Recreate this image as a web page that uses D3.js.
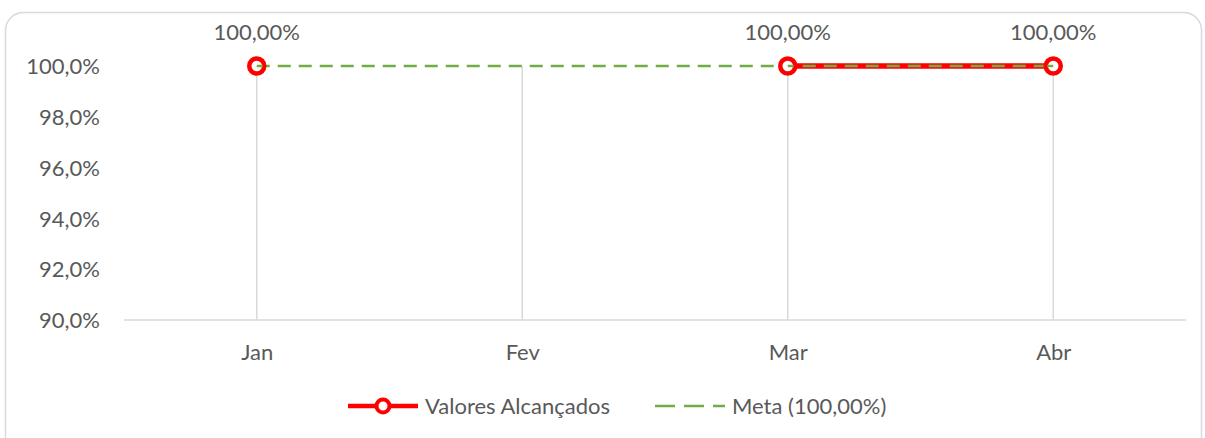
<!DOCTYPE html>
<html><head><meta charset="utf-8">
<script src="https://cdn.jsdelivr.net/npm/d3@7"></script>
<style>body{margin:0;background:#fff}svg{display:block}text{font-family:Lato,"Open Sans",sans-serif;fill:#595959}</style>
</head><body><svg id="c" width="1205" height="438"></svg>
<script>
const categories = ["Jan","Fev","Mar","Abr"];
const valores = [100, null, 100, 100];
const meta = [100, 100, 100, 100];
const yTicks = [90, 92, 94, 96, 98, 100];
const seriesNames = ["Valores Alcançados", "Meta (100,00%)"];

const svg = d3.select("#c");
const FS = 22;
const m = {left:124, right:1186, top:66, bottom:320};

svg.append("rect").attr("x",5.5).attr("y",12.5).attr("width",1196).attr("height",445)
  .attr("rx",18).attr("fill","#fff").attr("stroke","#d9d9d9").attr("stroke-width",1.5);

const x = d3.scalePoint().domain(categories).range([m.left, m.right]).padding(0.5);
const y = d3.scaleLinear().domain([90,100]).range([m.bottom, m.top]);

// y axis labels
const yAxis = d3.axisLeft(y).tickValues(yTicks).tickSize(0).tickPadding(0)
  .tickFormat(d => d3.format(".1f")(d).replace(".", ",") + "%");
const ya = svg.append("g").attr("transform",`translate(100,0)`).call(yAxis);
ya.select(".domain").remove();
ya.selectAll("text").attr("font-size",FS).attr("fill","#595959").attr("dy","0.35em").style("font-family","Lato");

// drop lines
svg.append("g").selectAll("line").data(categories).join("line")
  .attr("x1",d=>x(d)).attr("x2",d=>x(d)).attr("y1",(d,i)=>y(Math.max(meta[i], valores[i]||0))).attr("y2",m.bottom)
  .attr("stroke","#d9d9d9").attr("stroke-width",1.5);

// x axis
const xAxis = d3.axisBottom(x).tickSize(0).tickPadding(0);
const xa = svg.append("g").attr("transform",`translate(0,${m.bottom})`).call(xAxis);
xa.select(".domain").attr("d",`M${m.left},0H${m.right}`).attr("stroke","#d9d9d9").attr("stroke-width",1.5);
xa.selectAll("text").attr("font-size",FS).attr("fill","#595959").attr("y",32).attr("dy","0.35em").style("font-family","Lato");

// valores line
const lineV = d3.line().defined(d=>d.v!=null).x(d=>x(d.c)).y(d=>y(d.v));
const vData = categories.map((c,i)=>({c, v:valores[i]}));
svg.append("path").datum(vData).attr("d",lineV).attr("fill","none").attr("stroke","#ff0000").attr("stroke-width",5.5);

// meta line
const mData = categories.map((c,i)=>({c, v:meta[i]}));
svg.append("path").datum(mData).attr("d",lineV).attr("fill","none").attr("stroke","#70ad47")
  .attr("stroke-width",2.5).attr("stroke-dasharray","13,8");

// markers
svg.append("g").selectAll("circle").data(vData.filter(d=>d.v!=null)).join("circle")
  .attr("cx",d=>x(d.c)).attr("cy",d=>y(d.v)).attr("r",7.5).attr("fill","#fff").attr("stroke","#ff0000").attr("stroke-width",4.5);
svg.append("g").selectAll("line").data(vData.filter(d=>d.v!=null)).join("line")
  .attr("x1",d=> d.c==="Abr" ? x(d.c)-6 : x(d.c)).attr("x2",d=> d.c==="Abr" ? x(d.c) : x(d.c)+6)
  .attr("y1",d=>y(d.v)).attr("y2",d=>y(d.v)).attr("stroke","#70ad47").attr("stroke-width",2.5);

// data labels
svg.append("g").selectAll("text").data(vData.filter(d=>d.v!=null)).join("text")
  .attr("x",d=>x(d.c)).attr("y",d=>y(d.v)-34).attr("dy","0.35em").attr("text-anchor","middle").attr("font-size",FS)
  .text(d=>d3.format(".2f")(d.v).replace(".", ",")+"%");

// legend
const lg = svg.append("g");
lg.append("line").attr("x1",348).attr("x2",418).attr("y1",406).attr("y2",406).attr("stroke","#ff0000").attr("stroke-width",4.5);
lg.append("circle").attr("cx",383).attr("cy",406).attr("r",6.5).attr("fill","#fff").attr("stroke","#ff0000").attr("stroke-width",4);
lg.append("text").attr("x",425).attr("y",406).attr("dy","0.35em").attr("font-size",FS).text(seriesNames[0]);
lg.append("line").attr("x1",655).attr("x2",725).attr("y1",406).attr("y2",406).attr("stroke","#70ad47").attr("stroke-width",2.5).attr("stroke-dasharray","20,9");
lg.append("text").attr("x",732).attr("y",406).attr("dy","0.35em").attr("font-size",FS).text(seriesNames[1]);
</script></body></html>
